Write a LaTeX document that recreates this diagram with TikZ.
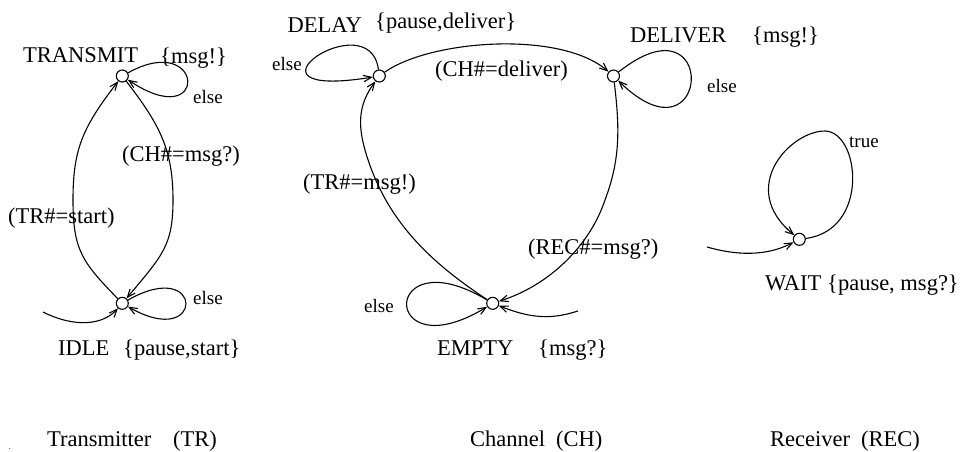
\documentclass[tikz,border=0pt]{standalone}
\usepackage{fontspec}
\setmainfont{Liberation Serif}
\usetikzlibrary{arrows.meta}
\begin{document}
\begin{tikzpicture}[x=1pt,y=-1pt,
  state/.style={circle,draw,line width=1.1pt,minimum size=12pt,inner sep=0pt},
  tr/.style={draw,line width=1.1pt,-{Straight Barb[length=8pt,width=6.5pt]}},
  big/.style={font=\fontsize{22.5}{27}\selectfont,inner sep=0pt,anchor=base west},
  small/.style={font=\fontsize{19}{23}\selectfont,inner sep=0pt,anchor=base west}]
\useasboundingbox (0,0) rectangle (966,451);

% ---------------- states ----------------
\node[state] (T) at (122.3,76) {};
\node[state] (I) at (122.3,303.3) {};
\node[state] (D) at (379.3,76) {};
\node[state] (V) at (613.5,76) {};
\node[state] (E) at (492.7,303.3) {};
\node[state] (W) at (799.3,239.3) {};

% free ends of the initial arrows and the top of the receiver loop
\coordinate (i0) at (43,312);
\coordinate (e0) at (578,311);
\coordinate (w0) at (707,247);
\coordinate (wtop) at (825,131);

% ---------------- transmitter ----------------
\draw[tr] (T) .. controls (205,30) and (210,135) .. (T);
\draw[tr] (I) .. controls (205,256) and (205,351) .. (I);
\draw[tr] (I) .. controls (82,262) and (73,250) .. (73,200)
              .. controls (73,150) and (82,128) .. (T);
\draw[tr] (T) .. controls (160,125) and (173,150) .. (173,200)
              .. controls (173,245) and (163,255) .. (I);
\draw[tr] (i0) .. controls (75,328) and (103,325) .. (I);

\node[big] (tT) at (23,62.5) {TRANSMIT};
\node[big] (tTo) at (160,63) {\{msg!\}};
\node[small] (tTe) at (193,103) {else};
\node[big] (tCH) at (122,161) {(CH\#=msg?)};
\node[big] (tTR) at (8,223) {(TR\#=start)};
\node[small] (tIe) at (193,304) {else};
\node[big] (tI) at (58,355) {IDLE};
\node[big] (tIo) at (123,355) {\{pause,start\}};

% ---------------- channel ----------------
\draw[tr] (D) .. controls (369.3,1) and (224.3,101) .. (D);
\draw[tr] (V) .. controls (720,-8.5) and (710.7,171) .. (V);
\draw[tr] (E) .. controls (380,236) and (380,372) .. (E);
\draw[tr] (D) .. controls (430,40) and (560,30) .. (V);
\draw[tr] (E) .. controls (430,262) and (385,220) .. (365,150)
              .. controls (358,125) and (358,105) .. (D);
\draw[tr] (V) .. controls (620,130) and (620,160) .. (605,200)
              .. controls (590,245) and (550,285) .. (E);
\draw[tr] (e0) .. controls (550,320) and (530,318) .. (E);

\node[big] (tD) at (287.5,32) {DELAY};
\node[big] (tDo) at (375,28) {\{pause,deliver\}};
\node[small] (tDe) at (272,70) {else};
\node[big] (tV) at (630,42) {DELIVER};
\node[big] (tVo) at (752,42) {\{msg!\}};
\node[small] (tVe) at (707,92) {else};
\node[big] (tCd) at (435,76) {(CH\#=deliver)};
\node[big] (tTm) at (303,189) {(TR\#=msg!)};
\node[big] (tRm) at (528,254) {(REC\#=msg?)};
\node[small] (tEe) at (364,312) {else};
\node[big] (tE) at (437,355) {EMPTY};
\node[big] (tEo) at (538,355) {\{msg?\}};

% ---------------- receiver ----------------
\draw[tr] (W) .. controls (870,230) and (860,132) .. (wtop)
              .. controls (790,131) and (737,188) .. (W);
\draw[tr] (w0) .. controls (735,255) and (765,257) .. (W);

\node[small] (tWt) at (849,147) {true};
\node[big] (tW) at (765,290) {WAIT};
\node[big] (tWo) at (827,290) {\{pause, msg?\}};

% ---------------- captions ----------------
\node[font=\fontsize{8}{9}\selectfont,inner sep=0pt,anchor=base] (dot) at (10,449) {.};
\node[big] (cT) at (47,446) {Transmitter};
\node[big] (cTa) at (173,446) {(TR)};
\node[big] (cC) at (470,446) {Channel};
\node[big] (cCa) at (556,446) {(CH)};
\node[big] (cR) at (770,446) {Receiver};
\node[big] (cRa) at (861,446) {(REC)};
\end{tikzpicture}
\end{document}
